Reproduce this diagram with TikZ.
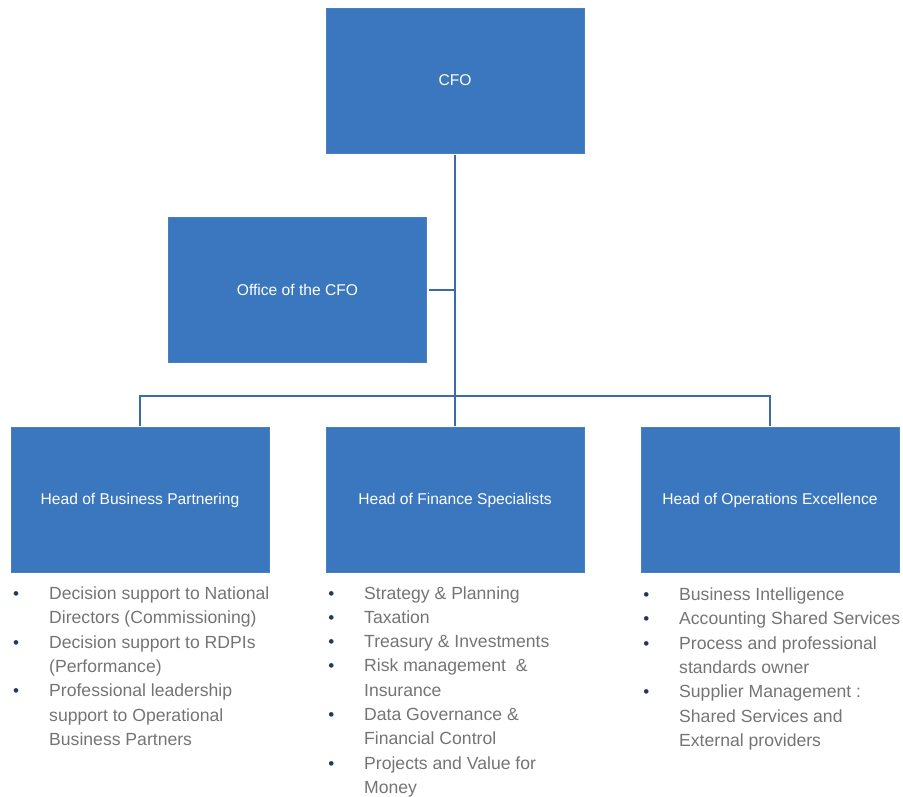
\documentclass[tikz,border=0pt]{standalone}
\usepackage{fontspec}
\setmainfont{Liberation Sans}

\definecolor{boxfill}{HTML}{3A77BE}
\definecolor{boxedge}{HTML}{4A80C0}
\definecolor{linkc}{HTML}{3A6BAA}
\definecolor{listc}{HTML}{747474}
\definecolor{dotc}{HTML}{22385C}

% one bullet line of a duty list
\newcommand{\duty}{\par\noindent\llap{\textcolor{dotc}{\fontsize{17}{17}\selectfont\textbullet}\hspace{30pt}}}

\tikzset{
  unit/.style={draw=boxedge, line width=0.8pt, fill=boxfill, text=white,
    minimum width=258pt, minimum height=145pt, inner sep=0pt, outer sep=2pt,
    font=\fontsize{15.6}{18}\selectfont},
  link/.style={draw=linkc, line width=2pt},
  duties/.style={anchor=base west, inner sep=0pt, text=listc,
    font=\fontsize{17.6}{24.3}\selectfont},
}

\begin{document}
\begin{tikzpicture}[x=1pt, y=-1pt]
  \useasboundingbox (0,0) rectangle (903,797);

  % boxes
  \node[unit] (cfo)    at (455,80.5)   {CFO};
  \node[unit] (office) at (297.5,289.5) {Office of the CFO};
  \node[unit] (bp)     at (140,500)    {Head of Business Partnering};
  \node[unit] (fin)    at (455,500)    {Head of Finance Specialists};
  \node[unit] (oe)     at (770,500)    {Head of Operations Excellence};

  % reporting lines
  \coordinate (bus) at (455,396);
  \draw[link] (cfo.south) -- (fin.north);
  \draw[link] (office.east) -- (office.east -| cfo.south);
  \draw[link] (bp.north) |- (bus) -| (oe.north);

  % duty lists
  \node[duties] (bplist) at (49,599.5) {\parbox[t]{260pt}{\raggedright
    \duty Decision support to National\\Directors (Commissioning)
    \duty Decision support to RDPIs\\(Performance)
    \duty Professional leadership\\support to Operational\\Business Partners}};

  \node[duties] (finlist) at (364,599) {\parbox[t]{260pt}{\raggedright
    \duty Strategy \& Planning
    \duty Taxation
    \duty Treasury \& Investments
    \duty Risk management \ \&\\Insurance
    \duty Data Governance \&\\Financial Control
    \duty Projects and Value for\\Money}};

  \node[duties] (oelist) at (679,600.5) {\parbox[t]{260pt}{\raggedright
    \duty Business Intelligence
    \duty Accounting Shared Services
    \duty Process and professional\\standards owner
    \duty Supplier Management :\\Shared Services and\\External providers}};
\end{tikzpicture}
\end{document}
